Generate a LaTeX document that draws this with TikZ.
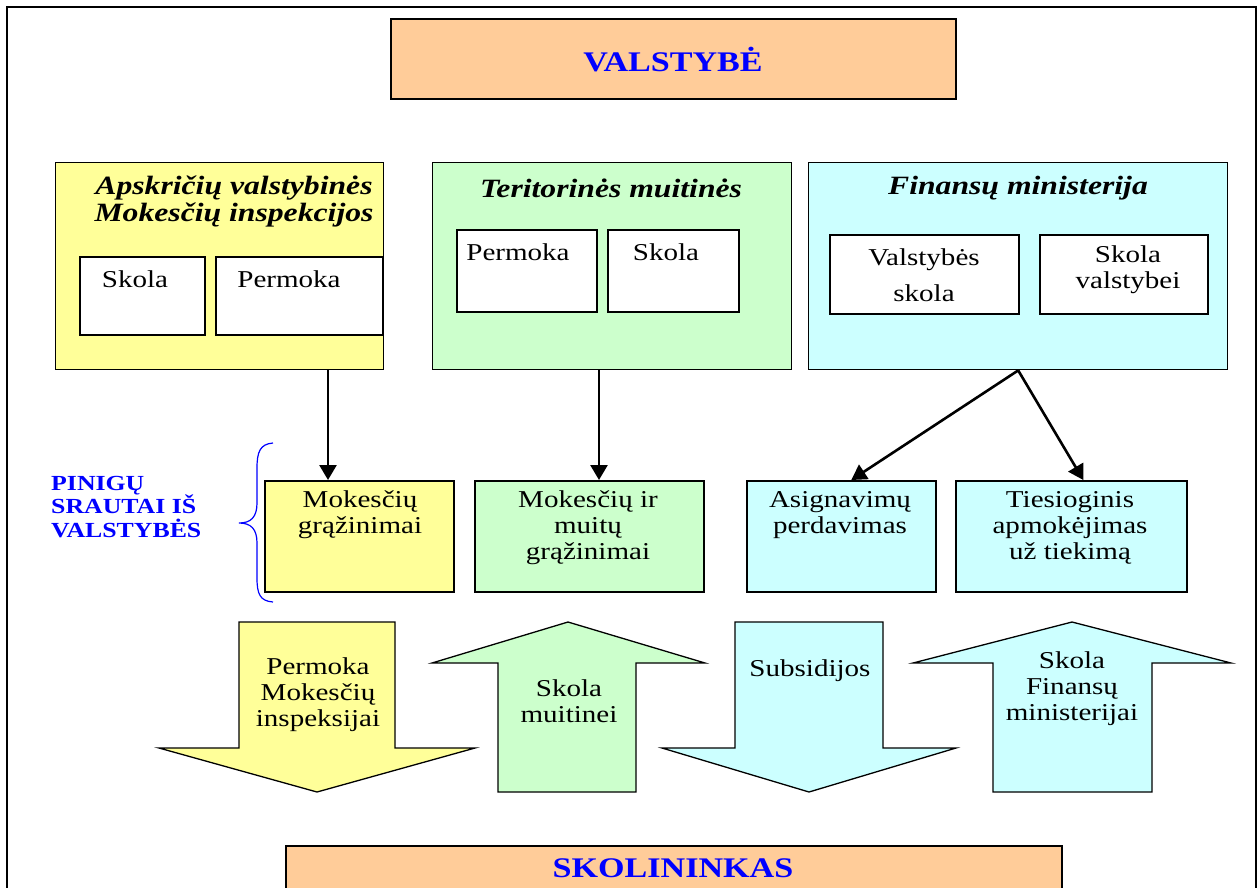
\documentclass[tikz,border=0pt]{standalone}
\usepackage{fontspec}
\setmainfont{Liberation Serif}[FakeStretch=1.2]
\usetikzlibrary{arrows.meta}
\definecolor{peach}{HTML}{FFCC99}
\definecolor{lyel}{HTML}{FFFF99}
\definecolor{lgrn}{HTML}{CCFFCC}
\definecolor{lcyn}{HTML}{CCFFFF}
\definecolor{tblue}{HTML}{0000FF}
\tikzset{
  box/.style={draw=black, line width=1.6pt, inner sep=0pt, anchor=north west},
  bigbox/.style={draw=black, line width=1.4pt, inner sep=0pt, anchor=north west},
  inbox/.style={draw=black, fill=white, line width=1.5pt, inner sep=0pt, anchor=north west},
  ttl/.style={text=tblue, font=\fontsize{28.4}{30}\selectfont\bfseries, inner sep=0pt},
  hdr/.style={font=\fontsize{26.4}{27}\selectfont\bfseries\itshape, align=center, inner sep=0pt},
  txt/.style={font=\fontsize{24.2}{26}\selectfont, align=center, inner sep=0pt},
  conn/.style={line width=2.6pt, -{Triangle[length=15pt,width=17pt]}},
  flow/.style={draw=black, line width=1.3pt, line join=miter},
}
\begin{document}
\begin{tikzpicture}[x=1pt, y=-1pt]
\useasboundingbox (0,0) rectangle (1260,887);
% outer frame
\draw[line width=2pt] (7,900) -- (7,7) -- (1256,7) -- (1256,900);

% top box
\node[box, fill=peach, minimum width=565pt, minimum height=80pt] (val) at (390,18) {};
\node[ttl] (valt) at (673,60) {VALSTYBĖ};

% three big boxes
\node[bigbox, fill=lyel, minimum width=328pt, minimum height=207pt] (yl) at (55,162) {};
\node[bigbox, fill=lgrn, minimum width=359pt, minimum height=207pt] (gr) at (432,162) {};
\node[bigbox, fill=lcyn, minimum width=419pt, minimum height=207pt] (fm) at (808,162) {};

\node[hdr] (ylh) at (234,201) {Apskričių valstybinės\\Mokesčių inspekcijos};
\node[hdr] (grh) at (611,188) {Teritorinės muitinės};
\node[hdr] (fmh) at (1018,188) {Finansų ministerija};

% inner boxes
\node[inbox, minimum width=125pt, minimum height=78pt] (ys) at (79,256) {};
\node[inbox, minimum width=167pt, minimum height=78pt] (yp) at (215,256) {};
\node[txt] (yst) at (135,279) {Skola};
\node[txt] (ypt) at (289,279) {Permoka};

\node[inbox, minimum width=140pt, minimum height=82pt] (gp) at (456,229) {};
\node[inbox, minimum width=131pt, minimum height=82pt] (gs) at (607,229) {};
\node[txt] (gpt) at (518,252) {Permoka};
\node[txt] (gst) at (666,252) {Skola};

\node[inbox, minimum width=189pt, minimum height=79pt] (fv) at (829,234) {};
\node[inbox, minimum width=168pt, minimum height=79pt] (fs) at (1039,234) {};
\node[txt, font=\fontsize{24.2}{36}\selectfont] (fvt) at (924,275) {Valstybės\\skola};
\node[txt] (fst) at (1128,270) {Skola\\valstybei};

% second row
\node[box, fill=lyel, minimum width=189pt, minimum height=111pt] (myl) at (264,480) {};
\node[box, fill=lgrn, minimum width=229pt, minimum height=111pt] (mgr) at (474,480) {};
\node[box, fill=lcyn, minimum width=189pt, minimum height=111pt] (asg) at (746,480) {};
\node[box, fill=lcyn, minimum width=231pt, minimum height=111pt] (tie) at (955,480) {};

\node[txt] (mylt) at (360,515) {Mokesčių\\grąžinimai};
\node[txt] (mgrt) at (588,528) {Mokesčių ir\\muitų\\grąžinimai};
\node[txt] (asgt) at (840,515) {Asignavimų\\perdavimas};
\node[txt] (tiet) at (1070,528) {Tiesioginis\\apmokėjimas\\už tiekimą};

% connectors
\coordinate (c1) at (328,0);
\coordinate (c2) at (599,0);
\draw[conn] (yl.south -| c1) -- (myl.north -| c1);
\draw[conn] (gr.south -| c2) -- (mgr.north -| c2);
\draw[conn] (fm.south) -- ([xshift=10pt]asg.north);
\draw[conn] (fm.south) -- ([xshift=12pt]tie.north);

% brace and label
\draw[tblue, line width=1.2pt] (273,443) .. controls (260,444) and (257,452) .. (257,468)
  -- (257,503) .. controls (257,517) and (251,523) .. (239,523)
  .. controls (251,523) and (257,529) .. (257,543)
  -- (257,578) .. controls (257,594) and (260,601) .. (273,602);
\node[text=tblue, font=\fontsize{21.5}{23.5}\selectfont\bfseries, align=left, anchor=west, inner sep=0pt] (pin) at (51,507) {PINIGŲ\\SRAUTAI IŠ\\VALSTYBĖS};

% big flow arrows
\draw[flow, fill=lyel] (239,622) -- (395,622) -- (395,748) -- (475,748) -- (317,792) -- (159,748) -- (239,748) -- cycle;
\node[txt] (a1) at (318,695) {Permoka\\Mokesčių\\inspeksijai};

\draw[flow, fill=lgrn] (568,622) -- (705,663) -- (636,663) -- (636,792) -- (498,792) -- (498,663) -- (432,663) -- cycle;
\node[txt] (a2) at (569,701) {Skola\\muitinei};

\draw[flow, fill=lcyn] (735,622) -- (883,622) -- (883,748) -- (956,748) -- (809,792) -- (662,748) -- (735,748) -- cycle;
\node[txt] (a3) at (810,671) {Subsidijos};

\draw[flow, fill=lcyn] (1072,622) -- (1231,663) -- (1152,663) -- (1152,792) -- (993,792) -- (993,663) -- (913,663) -- cycle;
\node[txt] (a4) at (1072,689) {Skola\\Finansų\\ministerijai};

% bottom box
\node[box, fill=peach, minimum width=776pt, minimum height=60pt] (sko) at (285,845) {};
\node[ttl] (skot) at (673,868) {SKOLININKAS};
\end{tikzpicture}
\end{document}
